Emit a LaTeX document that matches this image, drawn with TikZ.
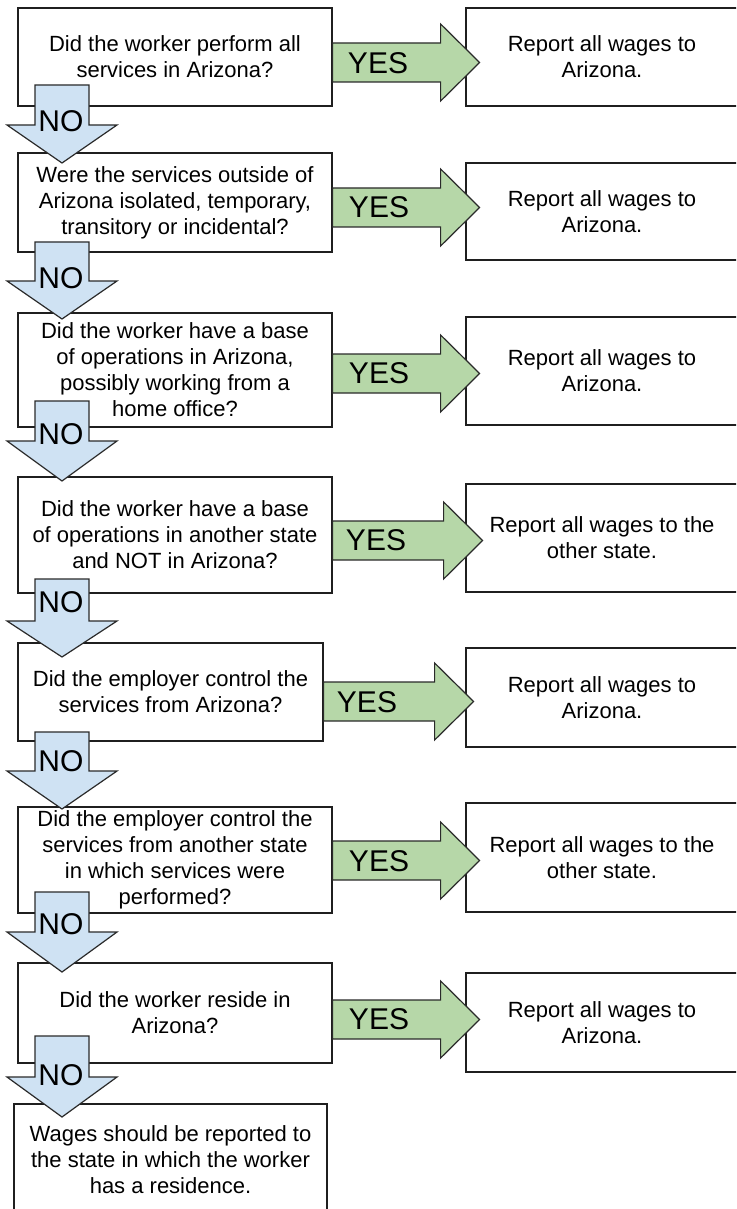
\documentclass[tikz,border=0pt]{standalone}
\usepackage{fontspec}
\setmainfont{Liberation Sans}
\definecolor{boxline}{HTML}{1F1F1F}
\definecolor{arrowline}{HTML}{2A2A2A}
\definecolor{yesgreen}{HTML}{B6D7A8}
\definecolor{noblue}{HTML}{CFE2F3}
\tikzset{
	question/.style={draw=boxline, line width=0.6pt, fill=white, align=center, minimum width=157pt, inner sep=0pt, font=\fontsize{11}{13}\selectfont},
	report/.style={question, minimum width=136pt},
	yesarrow/.style={draw=arrowline, line width=0.6pt, fill=yesgreen, line join=miter},
	noarrow/.style={draw=arrowline, line width=0.6pt, fill=noblue, line join=miter},
	tag/.style={font=\fontsize{15}{15}\selectfont, inner sep=0pt}
}
\begin{document}
\begin{tikzpicture}[x=0.5pt, y=-0.5pt]
		\useasboundingbox (0,0) rectangle (736,1209);
		\clip (0,0) rectangle (736,1209);

		% questions
		\node[question, minimum height=49pt] (q1) at (175,57) {Did the worker perform all\\services in Arizona?};
		\node[question, minimum height=49.5pt] (q2) at (175,202.5) {Were the services outside of\\Arizona isolated, temporary,\\transitory or incidental?};
		\node[question, minimum height=57pt] (q3) at (175,370) {Did the worker have a base\\of operations in Arizona,\\possibly working from a\\home office?};
		\node[question, minimum height=58pt] (q4) at (175,535) {Did the worker have a base\\of operations in another state\\and NOT in Arizona?};
		\node[question, minimum height=49pt, minimum width=152.5pt] (q5) at (170.5,692) {Did the employer control the\\services from Arizona?};
		\node[question, minimum height=53pt] (q6) at (175,860) {Did the employer control the\\services from another state\\in which services were\\performed?};
		\node[question, minimum height=50pt] (q7) at (175,1013) {Did the worker reside in\\Arizona?};
		\node[question, minimum height=56pt, minimum width=156.5pt] (last) at (170.5,1160) {Wages should be reported to\\the state in which the worker\\has a residence.};

		% answers
		\node[report, minimum height=49pt] (r1) at (602,57) {Report all wages to\\Arizona.};
		\node[report, minimum height=48.5pt] (r2) at (602,211.5) {Report all wages to\\Arizona.};
		\node[report, minimum height=54pt] (r3) at (602,371) {Report all wages to\\Arizona.};
		\node[report, minimum height=54pt] (r4) at (602,538) {Report all wages to the\\other state.};
		\node[report, minimum height=49.5pt] (r5) at (602,697.5) {Report all wages to\\Arizona.};
		\node[report, minimum height=54.5pt] (r6) at (602,857.5) {Report all wages to the\\other state.};
		\node[report, minimum height=49.5pt] (r7) at (602,1022.5) {Report all wages to\\Arizona.};

		% yes arrows
		\draw[yesarrow] (q1.east |- 0,43) -- ++(108,0) -- ++(0,-19) -- ++(39,38.5) -- ++(-39,38.5) -- ++(0,-19) -- ++(-108,0) -- cycle;
		\draw[yesarrow] (q2.east |- 0,188) -- ++(108,0) -- ++(0,-19) -- ++(39,38.5) -- ++(-39,38.5) -- ++(0,-19) -- ++(-108,0) -- cycle;
		\draw[yesarrow] (q3.east |- 0,354) -- ++(108,0) -- ++(0,-19) -- ++(39,38.5) -- ++(-39,38.5) -- ++(0,-19) -- ++(-108,0) -- cycle;
		\draw[yesarrow] (q4.east |- 0,521) -- ++(111,0) -- ++(0,-19) -- ++(39,38.5) -- ++(-39,38.5) -- ++(0,-19) -- ++(-111,0) -- cycle;
		\draw[yesarrow] (q5.east |- 0,682) -- ++(111,0) -- ++(0,-19) -- ++(39,38.5) -- ++(-39,38.5) -- ++(0,-19) -- ++(-111,0) -- cycle;
		\draw[yesarrow] (q6.east |- 0,841) -- ++(108,0) -- ++(0,-19) -- ++(39,38.5) -- ++(-39,38.5) -- ++(0,-19) -- ++(-108,0) -- cycle;
		\draw[yesarrow] (q7.east |- 0,1000) -- ++(108,0) -- ++(0,-19) -- ++(39,38.5) -- ++(-39,38.5) -- ++(0,-19) -- ++(-108,0) -- cycle;

		\node[tag] (yes1) at (378,63) {YES};
		\node[tag] (yes2) at (379,207) {YES};
		\node[tag] (yes3) at (379,373) {YES};
		\node[tag] (yes4) at (376,540) {YES};
		\node[tag] (yes5) at (367,702) {YES};
		\node[tag] (yes6) at (379,861) {YES};
		\node[tag] (yes7) at (379,1019) {YES};

		% no arrows
		\draw[noarrow] (35,85) -- ++(54,0) -- ++(0,40) -- ++(28,0) -- ++(-55,38) -- ++(-55,-38) -- ++(28,0) -- cycle;
		\draw[noarrow] (35,242) -- ++(54,0) -- ++(0,39) -- ++(28,0) -- ++(-55,38) -- ++(-55,-38) -- ++(28,0) -- cycle;
		\draw[noarrow] (35,401) -- ++(54,0) -- ++(0,40) -- ++(28,0) -- ++(-55,40) -- ++(-55,-40) -- ++(28,0) -- cycle;
		\draw[noarrow] (35,579) -- ++(54,0) -- ++(0,42) -- ++(28,0) -- ++(-55,36) -- ++(-55,-36) -- ++(28,0) -- cycle;
		\draw[noarrow] (35,732) -- ++(54,0) -- ++(0,39) -- ++(28,0) -- ++(-55,38) -- ++(-55,-38) -- ++(28,0) -- cycle;
		\draw[noarrow] (35,892) -- ++(54,0) -- ++(0,40) -- ++(28,0) -- ++(-55,40) -- ++(-55,-40) -- ++(28,0) -- cycle;
		\draw[noarrow] (35,1036) -- ++(54,0) -- ++(0,41) -- ++(28,0) -- ++(-55,40) -- ++(-55,-40) -- ++(28,0) -- cycle;

		\node[tag] (no1) at (61,121) {NO};
		\node[tag] (no2) at (61,278) {NO};
		\node[tag] (no3) at (61,434) {NO};
		\node[tag] (no4) at (61,602) {NO};
		\node[tag] (no5) at (61,761) {NO};
		\node[tag] (no6) at (61,924) {NO};
		\node[tag] (no7) at (61,1075) {NO};
	\end{tikzpicture}
\end{document}
